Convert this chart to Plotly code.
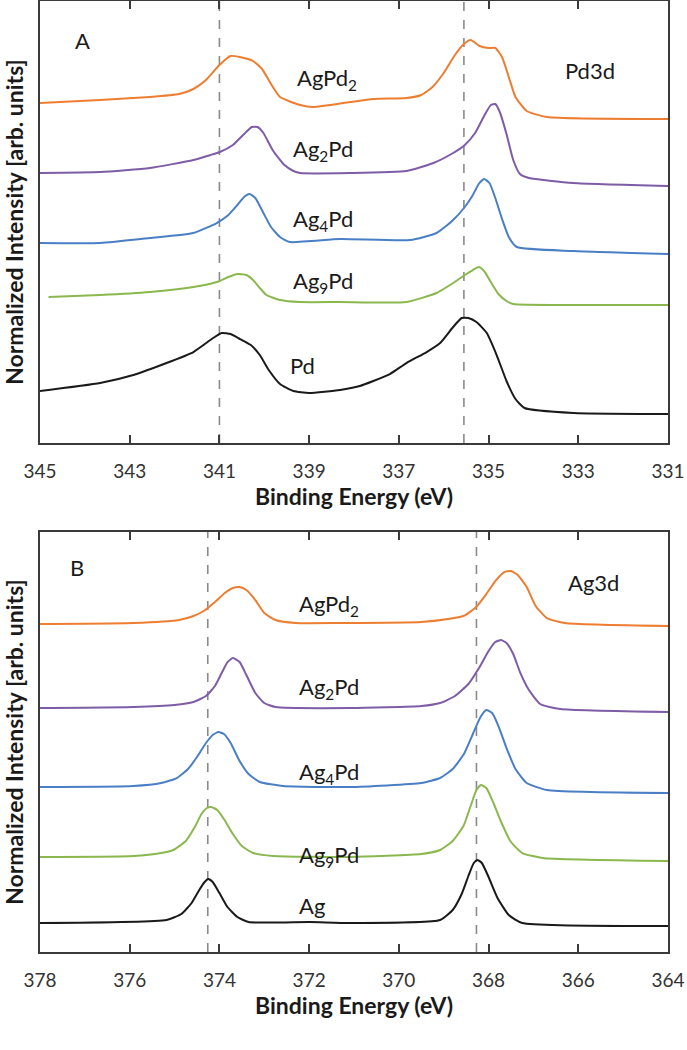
import plotly.graph_objects as go

# ---------------- Panel A: Pd3d ----------------
pd_labels = ["AgPd<sub>2</sub>", "Ag<sub>2</sub>Pd", "Ag<sub>4</sub>Pd", "Ag<sub>9</sub>Pd", "Pd"]
colors = ["#ED7D31", "#7E5CA6", "#4A7FC6", "#8BB84E", "#1A1A1A"]

pd_agpd2_e = [345.0, 343.66, 342.55, 341.9, 341.58, 341.3, 341.0, 340.75, 340.55, 340.25, 340.05, 339.85,
              339.65, 339.20, 338.91, 338.09, 337.57, 336.83, 336.5, 336.25, 336.0, 335.75, 335.55, 335.40,
              335.2, 335.0, 334.85, 334.7, 334.55, 334.4, 334.15, 333.70, 331.0]
pd_agpd2_i = [34.0, 34.3, 34.6, 34.9, 35.4, 36.3, 37.8, 38.7, 38.6, 38.2, 37.4, 35.9,
              34.6, 33.8, 33.6, 34.1, 34.4, 34.5, 34.8, 35.6, 37.0, 38.8, 39.9, 40.3,
              39.7, 39.5, 39.5, 38.6, 36.6, 34.6, 33.2, 32.6, 32.4]

pd_ag2pd_e = [345.0, 343.66, 342.55, 341.58, 341.2, 340.99, 340.7, 340.45, 340.28, 340.15, 340.02, 339.80,
              339.55, 339.35, 339.20, 338.09, 336.83, 336.23, 335.79, 335.53, 335.3, 335.1, 334.95, 334.85,
              334.75, 334.6, 334.45, 334.3, 334.1, 333.11, 331.0]
pd_ag2pd_i = [27.0, 27.1, 27.5, 28.3, 28.8, 29.1, 29.8, 30.9, 31.6, 31.6, 31.0, 29.2,
              27.8, 27.2, 27.0, 27.0, 27.2, 28.0, 29.0, 29.8, 31.0, 32.7, 33.8, 33.9,
              33.1, 30.9, 28.3, 26.9, 26.5, 26.0, 25.7]

pd_ag4pd_e = [345.0, 343.66, 342.55, 341.58, 341.06, 340.8, 340.6, 340.45, 340.33, 340.2, 340.02, 339.85,
              339.65, 339.43, 338.31, 336.75, 336.16, 335.79, 335.53, 335.35, 335.22, 335.1, 334.98,
              334.85, 334.7, 334.55, 334.37, 333.11, 331.0]
pd_ag4pd_i = [20.0, 20.0, 20.5, 21.0, 22.0, 22.8, 23.8, 24.6, 24.9, 24.5, 23.0, 21.6,
              20.6, 20.1, 20.4, 20.3, 21.0, 22.3, 23.6, 24.8, 25.9, 26.4, 26.0,
              24.5, 22.4, 20.6, 19.6, 19.2, 18.9]

pd_ag9pd_e = [344.81, 343.66, 342.55, 341.58, 341.06, 340.8, 340.6, 340.40, 340.25, 340.1, 339.95, 339.65,
              339.20, 338.31, 336.83, 336.16, 335.79, 335.53, 335.35, 335.22, 335.1, 334.95, 334.78,
              334.6, 334.45, 333.11, 331.0]
pd_ag9pd_i = [14.6, 14.8, 15.1, 15.6, 16.1, 16.6, 16.9, 16.8, 16.3, 15.5, 14.8, 14.3,
              14.1, 14.1, 14.1, 15.0, 16.0, 16.8, 17.3, 17.6, 17.2, 16.1, 14.9,
              14.2, 13.9, 13.8, 13.8]

pd_pd_e = [345.0, 343.66, 342.92, 342.18, 341.58, 341.14, 340.95, 340.75, 340.54, 340.30, 340.1, 339.9,
           339.65, 339.35, 339.0, 338.31, 337.87, 337.57, 337.20, 336.83, 336.38, 336.08, 335.79, 335.6,
           335.45, 335.27, 335.04, 334.82, 334.6, 334.4, 334.2, 333.11, 331.0]
pd_pd_i = [5.2, 6.0, 6.8, 8.0, 9.1, 10.5, 11.0, 10.9, 10.4, 9.8, 8.8, 7.3,
           5.9, 5.2, 5.0, 5.3, 5.7, 6.2, 6.9, 8.0, 9.1, 10.0, 11.6, 12.5,
           12.5, 12.1, 11.0, 8.8, 6.2, 4.4, 3.5, 3.0, 2.9]

pd_ref_lines = [341.0, 335.55]
pd_label_e = [338.6, 338.7, 338.7, 338.7, 339.15]
pd_label_i = [36.4, 29.3, 22.3, 16.1, 7.8]

# ---------------- Panel B: Ag3d ----------------
ag_labels = ["AgPd<sub>2</sub>", "Ag<sub>2</sub>Pd", "Ag<sub>4</sub>Pd", "Ag<sub>9</sub>Pd", "Ag"]

ag_agpd2_e = [378.0, 375.92, 374.9, 374.58, 374.35, 374.1, 373.88, 373.7, 373.55, 373.4, 373.2, 373.0,
              372.75, 372.3, 371.31, 369.5, 368.9, 368.56, 368.3, 368.05, 367.85, 367.65, 367.5, 367.35,
              367.15, 366.95, 366.7, 366.3, 364.0]
ag_agpd2_i = [32.8, 32.9, 33.2, 33.6, 34.1, 35.0, 35.9, 36.4, 36.5, 36.2, 35.2, 33.9,
              33.2, 32.9, 32.9, 33.0, 33.3, 33.6, 34.4, 35.8, 37.1, 38.0, 38.1, 37.7,
              36.5, 34.6, 33.4, 32.9, 32.6]

ag_ag2pd_e = [378.0, 375.92, 375.0, 374.58, 374.3, 374.1, 373.95, 373.82, 373.7, 373.55, 373.4, 373.2,
              373.0, 372.75, 371.09, 369.5, 369.08, 368.75, 368.45, 368.2, 368.0, 367.85, 367.72, 367.6,
              367.45, 367.3, 367.1, 366.85, 366.4, 364.0]
ag_ag2pd_i = [24.4, 24.5, 24.7, 25.0, 25.6, 26.6, 27.9, 29.0, 29.4, 29.0, 27.7, 25.9,
              24.9, 24.5, 24.4, 24.6, 24.9, 25.6, 26.8, 28.5, 30.1, 31.0, 31.2, 30.9,
              29.8, 28.0, 26.2, 24.8, 24.3, 24.0]

ag_ag4pd_e = [378.0, 375.92, 375.3, 374.95, 374.7, 374.5, 374.3, 374.15, 374.02, 373.9, 373.75, 373.55,
              373.35, 373.1, 372.58, 371.09, 369.5, 369.08, 368.8, 368.55, 368.35, 368.18, 368.05, 367.92,
              367.78, 367.6, 367.4, 367.15, 366.7, 364.0]
ag_ag4pd_i = [16.5, 16.6, 16.9, 17.4, 18.3, 19.5, 20.9, 21.7, 22.0, 21.8, 20.9, 19.1,
              17.8, 17.0, 16.6, 16.5, 16.9, 17.4, 18.3, 19.8, 21.8, 23.5, 24.2, 23.9,
              22.6, 20.4, 18.3, 16.9, 16.2, 15.9]

ag_ag9pd_e = [378.0, 375.92, 375.3, 375.03, 374.75, 374.55, 374.4, 374.28, 374.18, 374.05, 373.9, 373.7,
              373.5, 373.25, 372.8, 371.09, 369.5, 369.08, 368.8, 368.56, 368.4, 368.27, 368.17, 368.05,
              367.9, 367.72, 367.5, 367.25, 366.8, 364.0]
ag_ag9pd_i = [9.5, 9.6, 9.9, 10.2, 11.1, 12.5, 13.8, 14.4, 14.5, 14.2, 13.3, 11.8,
              10.6, 9.9, 9.6, 9.5, 9.8, 10.2, 11.1, 12.6, 14.6, 16.2, 16.7, 16.4,
              15.0, 13.0, 11.0, 9.9, 9.4, 9.1]

ag_ag_e = [378.0, 375.18, 374.85, 374.62, 374.45, 374.33, 374.25, 374.15, 374.0, 373.82, 373.6, 373.35,
           371.98, 371.09, 369.08, 368.8, 368.6, 368.45, 368.33, 368.25, 368.15, 368.0, 367.8, 367.55,
           367.25, 364.0]
ag_ag_i = [2.9, 3.2, 3.8, 4.9, 6.2, 7.0, 7.3, 7.0, 5.9, 4.5, 3.5, 3.0,
           3.0, 2.9, 3.2, 4.2, 5.8, 7.6, 8.9, 9.2, 8.9, 7.5, 5.4, 3.7,
           2.9, 2.6]

ag_ref_lines = [374.26, 368.27]
ag_label_e = [371.55, 371.55, 371.55, 371.55, 371.94]
ag_label_i = [34.7, 26.4, 17.9, 9.6, 4.7]

# ---------------- Figure ----------------
FONT = "Lato"
AXIS_COLOR = "#3a3a3a"
TEXT_COLOR = "#1a1a1a"

fig = go.Figure()

pd_series = [(pd_agpd2_e, pd_agpd2_i), (pd_ag2pd_e, pd_ag2pd_i), (pd_ag4pd_e, pd_ag4pd_i),
             (pd_ag9pd_e, pd_ag9pd_i), (pd_pd_e, pd_pd_i)]
ag_series = [(ag_agpd2_e, ag_agpd2_i), (ag_ag2pd_e, ag_ag2pd_i), (ag_ag4pd_e, ag_ag4pd_i),
             (ag_ag9pd_e, ag_ag9pd_i), (ag_ag_e, ag_ag_i)]

for xv in pd_ref_lines:
    fig.add_shape(type="line", xref="x", yref="y domain", x0=xv, x1=xv, y0=0, y1=1,
                  line=dict(color="#8a8a8a", width=1.6, dash="dash"), layer="below")
for xv in ag_ref_lines:
    fig.add_shape(type="line", xref="x2", yref="y2 domain", x0=xv, x1=xv, y0=0, y1=1,
                  line=dict(color="#8a8a8a", width=1.6, dash="dash"), layer="below")

for (e, i), c, name in zip(pd_series, colors, pd_labels):
    fig.add_trace(go.Scatter(x=e, y=i, mode="lines", name=name, xaxis="x", yaxis="y",
                             line=dict(color=c, width=2, shape="spline", smoothing=0.5),
                             showlegend=False))
for (e, i), c, name in zip(ag_series, colors, ag_labels):
    fig.add_trace(go.Scatter(x=e, y=i, mode="lines", name=name, xaxis="x2", yaxis="y2",
                             line=dict(color=c, width=2, shape="spline", smoothing=0.5),
                             showlegend=False))

lab_font = dict(family=FONT, size=22, color=TEXT_COLOR)
for t, xv, yv in zip(pd_labels, pd_label_e, pd_label_i):
    fig.add_annotation(x=xv, y=yv, xref="x", yref="y", text=t, showarrow=False, font=lab_font)
for t, xv, yv in zip(ag_labels, ag_label_e, ag_label_i):
    fig.add_annotation(x=xv, y=yv, xref="x2", yref="y2", text=t, showarrow=False, font=lab_font)

fig.add_annotation(x=344.06, y=40.3, xref="x", yref="y", text="A", showarrow=False, font=lab_font)
fig.add_annotation(x=332.74, y=37.3, xref="x", yref="y", text="Pd3d", showarrow=False, font=lab_font)
fig.add_annotation(x=377.18, y=38.5, xref="x2", yref="y2", text="B", showarrow=False, font=lab_font)
fig.add_annotation(x=365.67, y=37.0, xref="x2", yref="y2", text="Ag3d", showarrow=False, font=lab_font)

xcommon = dict(showline=True, linewidth=2, linecolor=AXIS_COLOR, mirror="ticks",
               ticks="inside", ticklen=8, tickwidth=1.5, tickcolor=AXIS_COLOR,
               showgrid=False, zeroline=False, dtick=2, automargin=False,
               tickfont=dict(family=FONT, size=19, color="#333333"),
               ticklabelstandoff=10,
               title=dict(text="<b>Binding Energy (eV)</b>",
                          font=dict(family=FONT, size=23, color=TEXT_COLOR), standoff=8))
ycommon = dict(showline=True, linewidth=2, linecolor=AXIS_COLOR, mirror=True, automargin=False,
               ticks="", showticklabels=False, showgrid=False, zeroline=False,
               title=dict(text="<b>Normalized Intensity [arb. units]</b>",
                          font=dict(family=FONT, size=23, color=TEXT_COLOR), standoff=12))

fig.update_layout(
    width=687, height=1050,
    margin=dict(l=40, r=19, t=1, b=98),
    paper_bgcolor="white", plot_bgcolor="white",
    xaxis=dict(xcommon, range=[345, 331], tick0=331, anchor="y"),
    yaxis=dict(ycommon, range=[0, 44.2], domain=[0.5352, 1.0], anchor="x"),
    xaxis2=dict(xcommon, range=[378, 364], tick0=364, anchor="y2"),
    yaxis2=dict(ycommon, range=[0, 42.0], domain=[0.0, 0.4416], anchor="x2"),
)

fig.write_html("out.html", config={"displayModeBar": False},
               post_script="document.body.style.margin='0';")
